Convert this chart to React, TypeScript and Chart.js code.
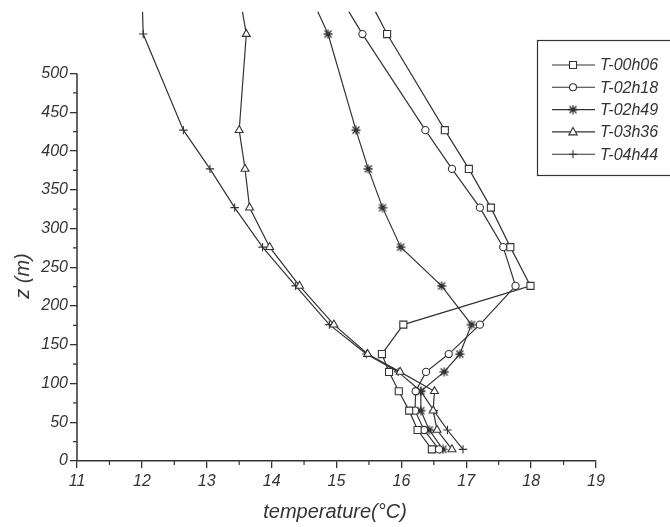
import React, { useEffect, useRef } from "react";
import { Chart, registerables } from "chart.js";

Chart.register(...registerables);

// Heights (m) shared by all profiles; the last value is where each line leaves the top of the plot
const HEIGHTS = [15, 40, 65, 90, 115, 138, 176, 226, 276, 327, 377, 427, 551, 580];

const T_00H06 = [16.47, 16.25, 16.12, 15.96, 15.81, 15.7, 16.03, 17.99, 17.68, 17.38, 17.04, 16.67, 15.78, 15.6];
const T_02H18 = [16.58, 16.35, 16.21, 16.22, 16.38, 16.73, 17.21, 17.76, 17.57, 17.21, 16.78, 16.37, 15.4, 15.19];
const T_02H49 = [16.64, 16.43, 16.3, 16.3, 16.66, 16.9, 17.08, 16.62, 15.99, 15.71, 15.49, 15.3, 14.87, 14.71];
const T_03H36 = [16.78, 16.55, 16.49, 16.51, 15.98, 15.48, 14.96, 14.43, 13.97, 13.66, 13.59, 13.5, 13.61, 13.55];
const T_04H44 = [16.95, 16.71, 16.5, 16.3, 15.95, 15.46, 14.89, 14.37, 13.86, 13.43, 13.05, 12.64, 12.02, 12.01];

const SERIES_NAMES = ["T-00h06", "T-02h18", "T-02h49", "T-03h36", "T-04h44"];
const SERIES_VALUES = [T_00H06, T_02H18, T_02H49, T_03H36, T_04H44];
const SERIES_MARKERS = ["square", "circle", "star", "triangle", "cross"];

const X_TICKS = [11, 12, 13, 14, 15, 16, 17, 18, 19];
const X_MINOR = [11.5, 12.5, 13.5, 14.5, 15.5, 16.5, 17.5, 18.5];
const Y_TICKS = [0, 50, 100, 150, 200, 250, 300, 350, 400, 450, 500];
const Y_MINOR = [25, 75, 125, 175, 225, 275, 325, 375, 425, 475];

const X_TITLE = "temperature(°C)";
const Y_TITLE = "z (m)";

const INK = "#333333";
const FONT = "'Liberation Sans', Arial, sans-serif";

function makeStarImage(): HTMLCanvasElement {
  const c = document.createElement("canvas");
  c.width = 10;
  c.height = 10;
  const g = c.getContext("2d")!;
  g.strokeStyle = INK;
  g.fillStyle = INK;
  g.lineWidth = 1.3;
  g.beginPath();
  g.moveTo(5, 0.5); g.lineTo(5, 9.5);
  g.moveTo(0.5, 5); g.lineTo(9.5, 5);
  g.moveTo(1.5, 1.5); g.lineTo(8.5, 8.5);
  g.moveTo(8.5, 1.5); g.lineTo(1.5, 8.5);
  g.stroke();
  g.fillRect(3, 3, 4, 4);
  return c;
}

function drawMarker(ctx: CanvasRenderingContext2D, kind: string, x: number, y: number, star: HTMLCanvasElement) {
  ctx.save();
  ctx.strokeStyle = INK;
  ctx.fillStyle = "#fff";
  ctx.lineWidth = 1.1;
  ctx.beginPath();
  if (kind === "square") {
    ctx.rect(x - 3.5, y - 3.5, 7, 7);
    ctx.fill();
    ctx.stroke();
  } else if (kind === "circle") {
    ctx.arc(x, y, 3.5, 0, Math.PI * 2);
    ctx.fill();
    ctx.stroke();
  } else if (kind === "triangle") {
    ctx.moveTo(x, y - 4.5);
    ctx.lineTo(x + 4.2, y + 3);
    ctx.lineTo(x - 4.2, y + 3);
    ctx.closePath();
    ctx.fill();
    ctx.stroke();
  } else if (kind === "cross") {
    ctx.moveTo(x - 4, y); ctx.lineTo(x + 4, y);
    ctx.moveTo(x, y - 4); ctx.lineTo(x, y + 4);
    ctx.stroke();
  } else if (kind === "star") {
    ctx.drawImage(star, x - 5, y - 5);
  }
  ctx.restore();
}

export default function App() {
  const ref = useRef<HTMLCanvasElement | null>(null);

  useEffect(() => {
    document.body.style.margin = "0";
    const canvas = ref.current;
    if (!canvas) return;
    const star = makeStarImage();
    const last = HEIGHTS.length - 1;

    const styleFor = (kind: string): any => {
      switch (kind) {
        case "square":
          return { pointStyle: "rect", radius: 5 };
        case "circle":
          return { pointStyle: "circle", radius: 3.6 };
        case "triangle":
          return { pointStyle: "triangle", radius: 4.6 };
        case "cross":
          return { pointStyle: "cross", radius: 4.2 };
        default:
          return { pointStyle: star, radius: 5 };
      }
    };

    const datasets = SERIES_NAMES.map((name, si) => {
      const st = styleFor(SERIES_MARKERS[si]);
      return {
        label: name,
        data: HEIGHTS.map((h, i) => ({ x: SERIES_VALUES[si][i], y: h })),
        showLine: true,
        borderColor: INK,
        borderWidth: 1.2,
        backgroundColor: "#ffffff",
        pointStyle: st.pointStyle,
        pointRadius: HEIGHTS.map((_, i) => (i === last ? 0 : st.radius)),
        pointBorderColor: INK,
        pointBackgroundColor: "#ffffff",
        pointBorderWidth: 1.1,
        tension: 0,
      };
    });

    const decor = {
      id: "decor",
      afterDraw(chart: any) {
        const ctx: CanvasRenderingContext2D = chart.ctx;
        const xs = chart.scales.x;
        const ys = chart.scales.y;
        const ax = xs.getPixelForValue(11);
        const ay = ys.getPixelForValue(0);
        ctx.save();
        ctx.strokeStyle = INK;
        ctx.lineWidth = 1.5;
        // left axis line 0..500
        ctx.beginPath();
        ctx.moveTo(ax, ay);
        ctx.lineTo(ax, ys.getPixelForValue(500));
        ctx.stroke();
        // minor ticks
        ctx.lineWidth = 1.2;
        ctx.beginPath();
        X_MINOR.forEach((v) => {
          const px = xs.getPixelForValue(v);
          ctx.moveTo(px, ay);
          ctx.lineTo(px, ay + 4);
        });
        Y_MINOR.forEach((v) => {
          const py = ys.getPixelForValue(v);
          ctx.moveTo(ax, py);
          ctx.lineTo(ax - 4, py);
        });
        ctx.stroke();

        // axis titles
        ctx.fillStyle = INK;
        ctx.font = `italic 20px ${FONT}`;
        ctx.textAlign = "center";
        ctx.textBaseline = "middle";
        ctx.fillText(X_TITLE, 335, 512);
        ctx.save();
        ctx.translate(23, 276);
        ctx.rotate(-Math.PI / 2);
        ctx.fillText(Y_TITLE, 0, 0);
        ctx.restore();

        // legend
        ctx.lineWidth = 1.2;
        ctx.fillStyle = "#fff";
        ctx.fillRect(537, 40, 140, 135);
        ctx.strokeRect(537.5, 40.5, 140, 135);
        ctx.font = `italic 16px ${FONT}`;
        ctx.textAlign = "left";
        SERIES_NAMES.forEach((name, i) => {
          const y = 65 + i * 22.3;
          ctx.beginPath();
          ctx.strokeStyle = INK;
          ctx.lineWidth = 1.1;
          ctx.moveTo(552, y);
          ctx.lineTo(595, y);
          ctx.stroke();
          drawMarker(ctx, SERIES_MARKERS[i], 573, y, star);
          ctx.fillStyle = INK;
          ctx.fillText(name, 600, y + 1);
        });
        ctx.restore();
      },
    };

    const chart = new Chart(canvas, {
      type: "scatter",
      data: { datasets: datasets as any },
      options: {
        animation: false,
        responsive: false,
        devicePixelRatio: 1,
        layout: { padding: { top: 10, right: 74, left: 0, bottom: 0 } },
        plugins: {
          legend: { display: false },
          tooltip: { enabled: false },
        },
        scales: {
          x: {
            type: "linear",
            min: 11,
            max: 19,
            afterFit: (s: any) => {
              s.height = 66;
            },
            afterBuildTicks: (s: any) => {
              s.ticks = X_TICKS.map((v) => ({ value: v }));
            },
            border: { display: true, color: INK, width: 1.5 },
            grid: { drawOnChartArea: false, drawTicks: true, tickLength: 7, color: INK, lineWidth: 1.3 },
            ticks: {
              color: INK,
              padding: 4,
              maxRotation: 0,
              autoSkip: false,
              font: { family: FONT, size: 16, style: "italic" },
            },
          },
          y: {
            type: "linear",
            min: 0,
            max: 580,
            afterFit: (s: any) => {
              s.width = 77;
            },
            afterBuildTicks: (s: any) => {
              s.ticks = Y_TICKS.map((v) => ({ value: v }));
            },
            border: { display: false },
            grid: { drawOnChartArea: false, drawTicks: true, tickLength: 7, color: INK, lineWidth: 1.3 },
            ticks: {
              color: INK,
              padding: 2,
              autoSkip: false,
              font: { family: FONT, size: 16, style: "italic" },
            },
          },
        },
      },
      plugins: [decor],
    });

    return () => {
      chart.destroy();
    };
  }, []);

  return (
    <div style={{ width: 670, height: 527, background: "#fff" }}>
      <canvas ref={ref} width={670} height={527} style={{ display: "block" }} />
    </div>
  );
}
